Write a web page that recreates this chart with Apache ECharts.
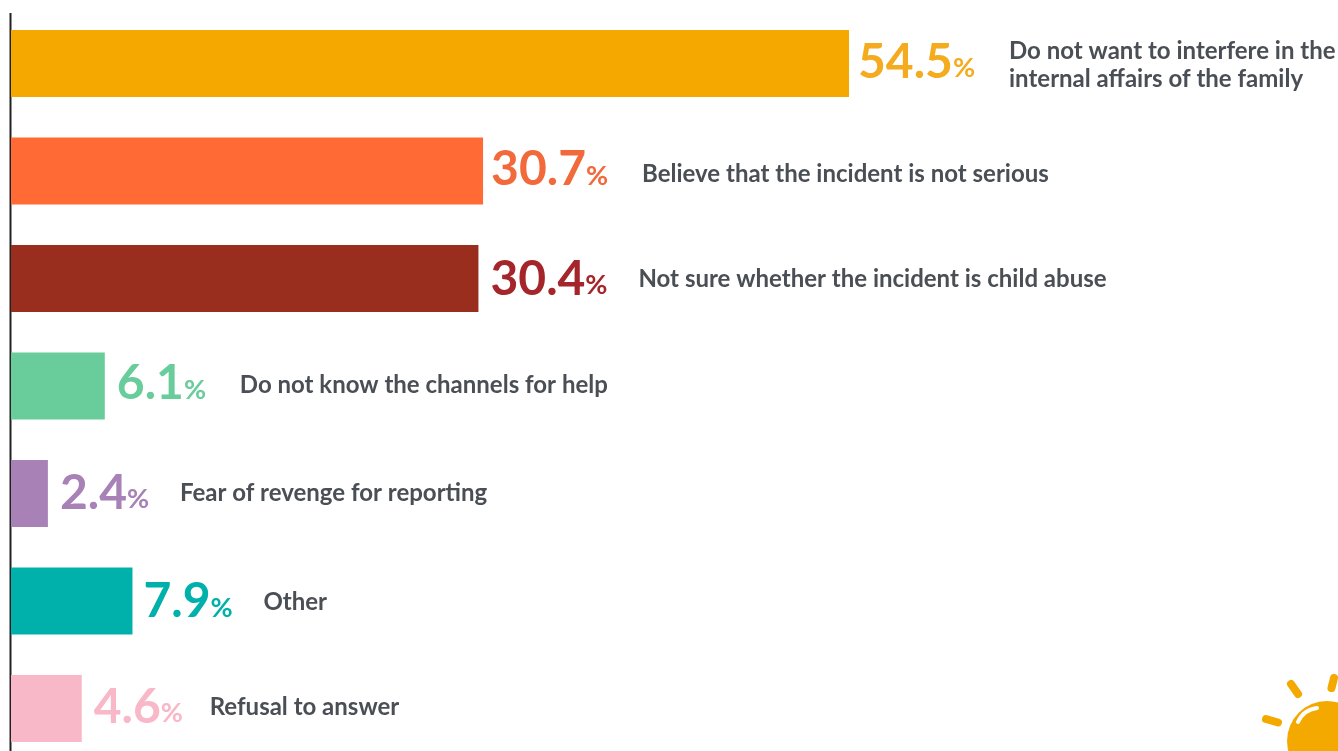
<!DOCTYPE html>
<html>
<head>
<meta charset="utf-8">
<style>html,body{margin:0;padding:0;background:#fff;overflow:hidden;height:751px}#chart{width:1338px;height:763px}</style>
<script src="https://cdn.jsdelivr.net/npm/echarts@6/dist/echarts.min.js"></script>
</head>
<body>
<div id="chart"></div>
<script>
// Reasons given for not reporting suspected child abuse (% of respondents)
const reasons = [
  'Do not want to interfere in the\ninternal affairs of the family',
  'Believe that the incident is not serious',
  'Not sure whether the incident is child abuse',
  'Do not know the channels for help',
  'Fear of revenge for reporting',
  'Other',
  'Refusal to answer'
];
const shares = [54.5, 30.7, 30.4, 6.1, 2.4, 7.9, 4.6];
const barColors = ['#F5A800', '#FF6A35', '#9A2E1E', '#69CC9B', '#A882B6', '#00B1AB', '#F8B8C8'];
const labelColors = ['#F5AB1E', '#F26A3C', '#A5262A', '#69CC9B', '#A882B6', '#00B1AB', '#F8B8C8'];
const valueGaps = [9, 8, 12, 12, 12, 11, 12];
const valueShifts = [-1, -1, 1, -2, 0, 1, -1];
const reasonGaps = [160, 159, 160, 135, 132, 131, 128];
const reasonShifts = [2, 3, 1, -1, 0, 1, -1];

const FONT = 'Lato';
const SUN = '#F4A900';
const ray = (x1, y1, x2, y2) => ({
  type: 'line',
  shape: { x1, y1, x2, y2 },
  style: { stroke: SUN, lineWidth: 8, lineCap: 'round' }
});

const chart = echarts.init(document.getElementById('chart'));
chart.setOption({
  animation: false,
  backgroundColor: '#fff',
  grid: { left: 11, right: 0, top: 9.75, height: 752.5 },
  xAxis: { type: 'value', min: 0, max: 86.3, show: false },
  yAxis: {
    type: 'category',
    inverse: true,
    data: reasons,
    axisLine: { show: false },
    axisTick: { show: false },
    axisLabel: { show: false }
  },
  series: [
    {
      // Coloured bars with the percentage beside each one
      type: 'bar',
      barWidth: 67,
      data: shares.map((v, i) => ({
        value: v,
        itemStyle: { color: barColors[i] },
        label: {
          distance: valueGaps[i],
          offset: [0, valueShifts[i]],
          rich: {
            v: { fontFamily: FONT, fontSize: 48, fontWeight: 700, color: labelColors[i] },
            p: { fontFamily: FONT, fontSize: 27, fontWeight: 700, color: labelColors[i], padding: [12, 0, 0, 0] }
          }
        }
      })),
      label: {
        show: true,
        position: 'right',
        formatter: p => `{v|${p.value.toFixed(1)}}{p|%}`
      }
    },
    {
      // Transparent twin of the bars that anchors the reason text
      type: 'bar',
      barWidth: 67,
      barGap: '-100%',
      silent: true,
      itemStyle: { color: 'transparent' },
      data: shares.map((v, i) => ({
        value: v,
        label: { distance: reasonGaps[i], offset: [0, reasonShifts[i]] }
      })),
      label: {
        show: true,
        position: 'right',
        formatter: p => p.name,
        fontFamily: FONT,
        fontSize: 24,
        fontWeight: 700,
        lineHeight: 28,
        color: '#4A4F55',
        align: 'left'
      }
    }
  ],
  graphic: [
    {
      // Vertical baseline
      type: 'line',
      shape: { x1: 10.5, y1: 13, x2: 10.5, y2: 751 },
      style: { stroke: '#222', lineWidth: 2 }
    },
    // Sun emblem in the corner
    ray(1266, 719, 1278, 722.5),
    ray(1291, 684, 1298, 694),
    ray(1334, 678, 1331.5, 688),
    { type: 'circle', shape: { cx: 1327, cy: 741, r: 40 }, style: { fill: SUN } },
    {
      type: 'bezierCurve',
      shape: { x1: 1298, y1: 722, cpx1: 1302, cpy1: 713, cpx2: 1309, cpy2: 709, x2: 1317, y2: 708 },
      style: { fill: null, stroke: '#fff', lineWidth: 4, lineCap: 'round' }
    }
  ]
});
</script>
</body>
</html>
